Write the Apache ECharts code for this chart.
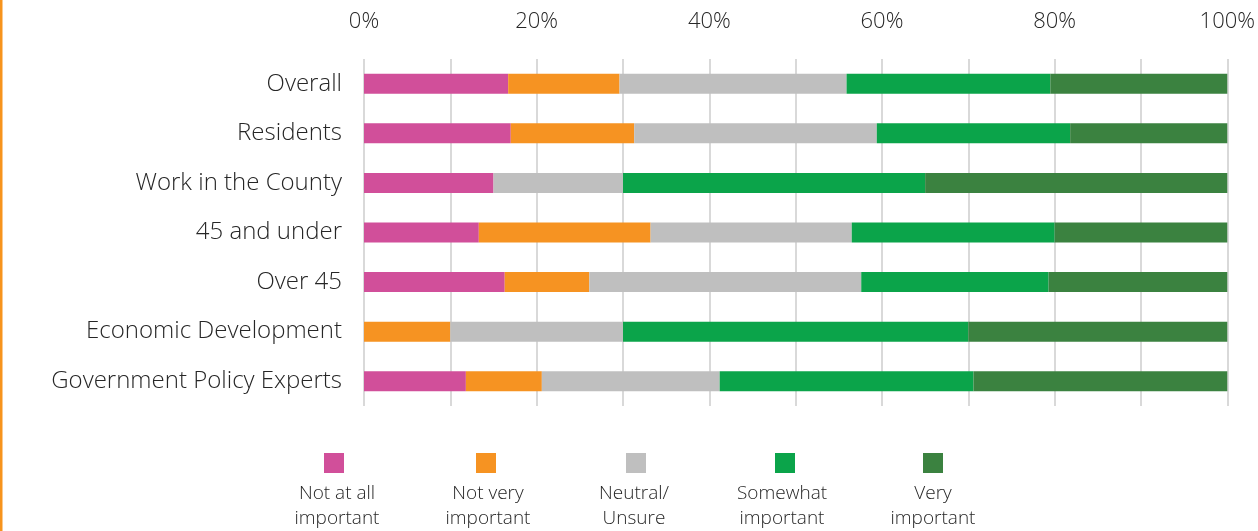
<!DOCTYPE html>
<html>
<head>
<meta charset="utf-8">
<script src="https://cdn.jsdelivr.net/npm/echarts@6/dist/echarts.min.js"></script>
<style>
  html, body { margin: 0; padding: 0; background: #fff; }
  #chart { width: 1258px; height: 531px; }
</style>
</head>
<body>
<div id="chart"></div>
<script>
// Groups, top to bottom
const categories = [
  'Overall',
  'Residents',
  'Work in the County',
  '45 and under',
  'Over 45',
  'Economic Development',
  'Government Policy Experts'
];

// Share of responses (%) per importance level
const notAtAll     = [16.7, 17.0, 15.0, 13.3, 16.3, 0.0, 11.8];
const notVery      = [12.9, 14.3, 0.0, 19.9, 9.8, 10.0, 8.8];
const neutral      = [26.3, 28.1, 15.0, 23.3, 31.5, 20.0, 20.6];
const somewhat     = [23.6, 22.4, 35.0, 23.5, 21.7, 40.0, 29.4];
const very         = [20.5, 18.3, 35.0, 20.0, 20.7, 30.0, 29.4];

const seriesNames  = ['Not at all important', 'Not very important', 'Neutral/Unsure', 'Somewhat important', 'Very important'];
const legendLabels = ['Not at all\nimportant', 'Not very\nimportant', 'Neutral/\nUnsure', 'Somewhat\nimportant', 'Very\nimportant'];
const colors       = ['#D14F9A', '#F69322', '#BFBFBF', '#0BA44A', '#3B8240'];

const FONT = '"Open Sans", Inter, sans-serif';
const WEIGHT = 300;
const values = [notAtAll, notVery, neutral, somewhat, very];

const chart = echarts.init(document.getElementById('chart'), null, { renderer: 'canvas' });

// Legend swatches: one small legend per level, laid out in a row
const swatchLeft = [324, 476, 626, 775, 923];
const labelCenter = [337, 488, 634, 782, 933];

const legends = seriesNames.map((name, i) => ({
  data: [name],
  left: swatchLeft[i],
  top: 453,
  padding: 0,
  orient: 'horizontal',
  itemWidth: 20,
  itemHeight: 20,
  icon: 'rect',
  selectedMode: false,
  formatter: () => '',
  textStyle: { fontSize: 1 }
}));

const legendText = legendLabels.map((txt, i) => ({
  type: 'text',
  left: labelCenter[i] - 60,
  top: 481,
  style: {
    text: txt,
    width: 120,
    align: 'center',
    x: 60,
    textAlign: 'center',
    fontFamily: FONT,
    fontWeight: WEIGHT,
    fontSize: 19,
    lineHeight: 25,
    fill: '#262626'
  }
}));

chart.setOption({
  animation: false,
  color: colors,
  grid: { left: 364, right: 28, top: 59, bottom: 125, containLabel: false },
  legend: legends,
  graphic: [
    { type: 'rect', left: 0, top: 0, shape: { x: 0, y: 0, width: 2.5, height: 531 }, style: { fill: '#F7941D' } },
    ...legendText
  ],
  xAxis: {
    type: 'value',
    position: 'top',
    min: 0,
    max: 100,
    interval: 10,
    axisLine: { show: false },
    axisTick: { show: false },
    splitLine: { show: true, lineStyle: { color: '#D9D9D9', width: 2 } },
    axisLabel: {
      margin: 26,
      fontFamily: FONT,
      fontWeight: WEIGHT,
      fontSize: 22,
      color: '#262626',
      formatter: v => (v % 20 === 0 ? v + '%' : '')
    }
  },
  yAxis: {
    type: 'category',
    data: categories,
    inverse: true,
    axisLine: { show: false },
    axisTick: { show: false },
    splitLine: { show: false },
    axisLabel: {
      margin: 22,
      fontFamily: FONT,
      fontWeight: WEIGHT,
      fontSize: 24,
      color: '#262626'
    }
  },
  series: values.map((arr, i) => ({
    name: seriesNames[i],
    type: 'bar',
    stack: 'total',
    barWidth: 20,
    data: arr,
    itemStyle: { color: colors[i] }
  }))
});
</script>
</body>
</html>
